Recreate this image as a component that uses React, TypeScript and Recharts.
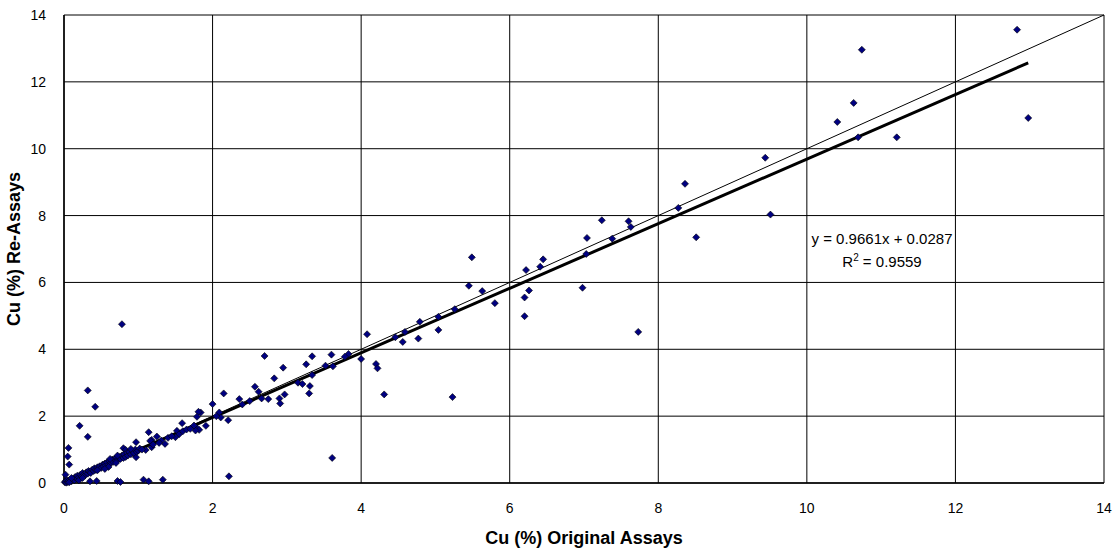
import React from "react";
import {
  ScatterChart,
  Scatter,
  XAxis,
  YAxis,
  CartesianGrid,
  ReferenceLine,
  Label,
} from "recharts";

const origX: number[] = [
  12.83, 10.74, 10.63, 10.41, 10.69, 11.21, 12.98, 9.44, 9.51, 8.36, 8.27, 8.51,
  7.24, 7.6, 7.63, 7.38, 7.04, 7.03, 7.73, 6.98, 6.45, 6.41, 6.22, 6.26, 6.2, 6.2,
  5.49, 5.45, 5.63, 5.8, 5.26, 5.23, 5.04, 5.04, 4.79, 4.77, 4.59, 4.56, 4.46,
  4.08, 4.0, 4.2, 4.22, 4.31, 3.83, 3.78, 3.6, 3.52, 3.62, 3.34, 3.26, 2.95, 2.7,
  2.83, 2.57, 2.62, 2.66, 2.75, 2.9, 2.91, 2.97, 3.15, 3.21, 3.31, 3.3, 3.34,
  2.15, 2.0, 2.36, 1.84, 2.09, 2.11, 2.21, 1.81, 1.79, 1.59, 1.91, 1.79, 1.82,
  1.77, 1.52, 1.55, 1.5, 1.14, 1.25, 1.18, 1.36, 1.31, 0.97, 1.16, 1.18, 1.1,
  0.8, 0.89, 0.93, 0.82, 0.97, 0.83,
  0.78, 0.32, 0.42, 0.21, 0.32, 0.06, 0.05, 0.07,
  0.35, 0.72, 0.76, 1.07, 1.14, 1.33, 2.22, 3.61, 0.44,
  1.2, 1.28, 1.4, 1.45, 1.6, 1.65, 1.7, 1.75, 2.05, 2.4, 2.5,
  0.01, 0.02, 0.03, 0.04, 0.05, 0.06, 0.08, 0.1, 0.02, 0.07, 0.12, 0.14, 0.15,
  0.17, 0.18, 0.2, 0.22, 0.24, 0.25, 0.27, 0.28, 0.3, 0.32, 0.33, 0.35, 0.36,
  0.38, 0.4, 0.41, 0.43, 0.45, 0.46, 0.48, 0.5, 0.52, 0.53, 0.55, 0.56, 0.58,
  0.6, 0.61, 0.63, 0.65, 0.66, 0.68, 0.7, 0.71, 0.73, 0.75, 0.76, 0.78, 0.8,
  0.81, 0.83, 0.85, 0.86, 0.88, 0.9, 0.92, 0.94, 0.96, 0.98, 1.0, 1.02, 1.05,
  0.6, 0.7, 0.55, 0.45, 0.2, 0.25, 0.1, 0.62, 0.72, 0.9,
];

const reY: number[] = [
  13.56, 12.96, 11.37, 10.8, 10.34, 10.34, 10.92, 9.73, 8.03, 8.95, 8.23, 7.35,
  7.86, 7.83, 7.66, 7.31, 7.33, 6.85, 4.52, 5.84, 6.69, 6.47, 6.37, 5.76, 5.55, 4.99,
  6.75, 5.9, 5.74, 5.38, 5.2, 2.57, 4.97, 4.58, 4.82, 4.32, 4.52, 4.22, 4.36,
  4.45, 3.71, 3.56, 3.43, 2.65, 3.86, 3.78, 3.84, 3.51, 3.49, 3.79, 3.55, 3.45, 3.8,
  3.13, 2.88, 2.73, 2.53, 2.51, 2.53, 2.38, 2.65, 3.0, 2.96, 2.9, 2.68, 3.23,
  2.68, 2.36, 2.51, 2.11, 2.11, 1.96, 1.88, 2.13, 1.98, 1.79, 1.71, 1.64, 1.59,
  1.57, 1.56, 1.46, 1.37, 1.52, 1.39, 1.29, 1.17, 1.27, 1.22, 1.26, 1.07, 0.99,
  1.04, 0.94, 0.89, 0.84, 0.77, 0.99,
  4.75, 2.77, 2.28, 1.71, 1.38, 1.05, 0.79, 0.55,
  0.05, 0.06, 0.03, 0.1, 0.05, 0.1, 0.2, 0.75, 0.06,
  1.15, 1.2, 1.35, 1.4, 1.55, 1.6, 1.62, 1.72, 2.0, 2.35, 2.45,
  0.02, 0.05, 0.01, 0.08, 0.03, 0.06, 0.1, 0.05, 0.25, 0.02, 0.12, 0.08, 0.18,
  0.14, 0.22, 0.17, 0.25, 0.2, 0.3, 0.26, 0.22, 0.32, 0.28, 0.36, 0.33, 0.3,
  0.4, 0.36, 0.44, 0.39, 0.47, 0.42, 0.5, 0.45, 0.55, 0.5, 0.58, 0.52, 0.62,
  0.55, 0.66, 0.6, 0.7, 0.63, 0.72, 0.66, 0.76, 0.7, 0.78, 0.72, 0.82, 0.75,
  0.86, 0.78, 0.9, 0.82, 0.93, 0.86, 0.96, 0.9, 1.0, 0.93, 0.97, 1.03, 1.0,
  0.48, 0.6, 0.42, 0.38, 0.08, 0.15, 0.15, 0.72, 0.82, 1.02,
];

const axisTicks: number[] = [0, 2, 4, 6, 8, 10, 12, 14];

const slope = 0.9661;
const intercept = 0.0287;
const r2 = "0.9559";

const points = origX.map((x, i) => ({ x, y: reY[i] }));
const minX = Math.min(...origX);
const maxX = Math.max(...origX);

const Diamond = (props: any) => {
  const { cx, cy } = props;
  if (cx == null || cy == null) return null;
  const s = 3.5;
  return (
    <polygon
      points={`${cx},${cy - s} ${cx + s},${cy} ${cx},${cy + s} ${cx - s},${cy}`}
      fill="#000080"
      stroke="#000"
      strokeWidth={0.6}
    />
  );
};

const FONT = "'Liberation Sans', Arial, sans-serif";

export default function App() {
  return (
    <div
      style={{
        position: "absolute",
        left: 0,
        top: 0,
        width: 1119,
        height: 548,
        background: "#fff",
        fontFamily: FONT,
      }}
    >
      <ScatterChart
        width={1119}
        height={548}
        margin={{ top: 15, right: 15, left: 0, bottom: 0 }}
      >
        <CartesianGrid stroke="#000" strokeWidth={1} fill="#fff" />
        <XAxis
          type="number"
          dataKey="x"
          domain={[0, 14]}
          ticks={axisTicks}
          interval={0}
          height={65}
          tickLine={false}
          axisLine={{ stroke: "#000", strokeWidth: 1.5 }}
          tick={{ fill: "#000", fontSize: 14, fontFamily: FONT }}
          tickMargin={14}
        >
          <Label
            value="Cu (%) Original Assays"
            position="insideBottom"
            offset={4}
            style={{ fill: "#000", fontSize: 18, fontWeight: "bold", fontFamily: FONT }}
          />
        </XAxis>
        <YAxis
          type="number"
          dataKey="y"
          domain={[0, 14]}
          ticks={axisTicks}
          interval={0}
          width={64}
          tickLine={false}
          axisLine={{ stroke: "#000", strokeWidth: 1.5 }}
          tick={{ fill: "#000", fontSize: 14, fontFamily: FONT }}
          tickMargin={12}
        >
          <Label
            value="Cu (%) Re-Assays"
            angle={-90}
            position="insideLeft"
            offset={14}
            style={{
              fill: "#000",
              fontSize: 18,
              fontWeight: "bold",
              fontFamily: FONT,
              textAnchor: "middle",
            }}
          />
        </YAxis>
        <ReferenceLine
          segment={[
            { x: 0, y: 0 },
            { x: 14, y: 14 },
          ]}
          stroke="#000"
          strokeWidth={1}
          ifOverflow="visible"
        />
        <Scatter
          data={points}
          shape={Diamond}
          isAnimationActive={false}
        />
        <ReferenceLine
          segment={[
            { x: minX, y: slope * minX + intercept },
            { x: maxX, y: slope * maxX + intercept },
          ]}
          stroke="#000"
          strokeWidth={3}
          ifOverflow="visible"
        />
      </ScatterChart>
      <div
        style={{
          position: "absolute",
          left: 808,
          top: 227,
          width: 148,
          textAlign: "center",
          fontSize: 15,
          lineHeight: "23px",
          color: "#000",
          whiteSpace: "nowrap",
        }}
      >
        <div>
          y = {slope.toFixed(4)}x + {intercept.toFixed(4)}
        </div>
        <div>
          R<sup style={{ fontSize: 10, lineHeight: 0 }}>2</sup> = {r2}
        </div>
      </div>
    </div>
  );
}
